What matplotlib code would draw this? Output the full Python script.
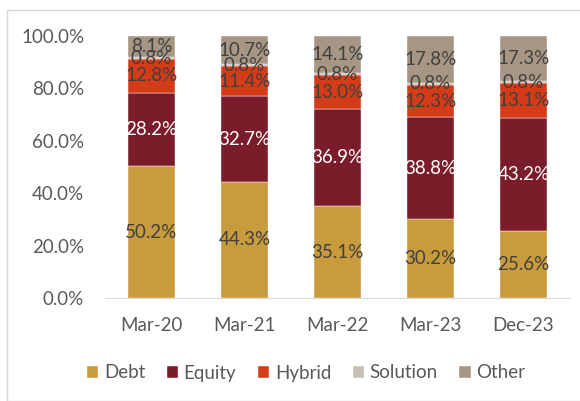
import numpy as np
import matplotlib.pyplot as plt
from matplotlib.patches import Rectangle

plt.rcParams["font.family"] = ["Lato", "DejaVu Sans"]

periods = ["Mar-20", "Mar-21", "Mar-22", "Mar-23", "Dec-23"]
debt = [50.2, 44.3, 35.1, 30.2, 25.6]
equity = [28.2, 32.7, 36.9, 38.8, 43.2]
hybrid = [12.8, 11.4, 13.0, 12.3, 13.1]
solution = [0.8, 0.8, 0.8, 0.8, 0.8]
other = [8.1, 10.7, 14.1, 17.8, 17.3]

series = [
    ("Debt", debt, "#C89B3C", "#404040"),
    ("Equity", equity, "#7B1C2A", "white"),
    ("Hybrid", hybrid, "#D63B17", "#404040"),
    ("Solution", solution, "#C9C0B5", "#404040"),
    ("Other", other, "#A69683", "#404040"),
]

FS = 13.5

fig = plt.figure(figsize=(5.8, 4.01), dpi=100)
fig.patches.append(Rectangle((7 / 580, 0), 1, 1 - 10 / 401, transform=fig.transFigure,
                             fill=False, edgecolor="#D9D9D9", linewidth=1.0))
ax = fig.add_axes([105 / 580, 1 - 298 / 401, 465 / 580, 262 / 401])

x = np.arange(len(periods))
bottom = np.zeros(len(periods))
for name, vals, color, tcolor in series:
    v = np.array(vals) / 100
    ax.bar(x, v, 0.5, bottom=bottom, color=color, label=name,
           edgecolor="white", linewidth=0.3)
    for xi, b, h in zip(x, bottom, v):
        ax.text(xi, b + h / 2, f"{h * 100:.1f}%", ha="center", va="center",
                fontsize=FS, color=tcolor)
    bottom += v

ax.set_xlim(-0.5, len(periods) - 0.5)
ax.set_ylim(0, 1)
ticks = np.arange(0, 1.01, 0.2)
ax.set_yticks(ticks)
ax.set_yticklabels([f"{t * 100:.1f}%" for t in ticks])
ax.set_xticks(x)
ax.set_xticklabels(periods)
ax.tick_params(length=0, labelsize=FS, colors="#595959")
ax.tick_params(axis="x", pad=14)
ax.tick_params(axis="y", pad=15)
for s in ["top", "right", "left"]:
    ax.spines[s].set_visible(False)
ax.spines["bottom"].set_color("#D9D9D9")

fig.legend(loc="center", bbox_to_anchor=(0.528, 1 - 373 / 401), ncol=5, frameon=False,
           fontsize=FS, handlelength=0.6, handleheight=0.6, handletextpad=0.3,
           columnspacing=1.15, labelcolor="#595959")

fig.savefig("out.png", dpi=100)
